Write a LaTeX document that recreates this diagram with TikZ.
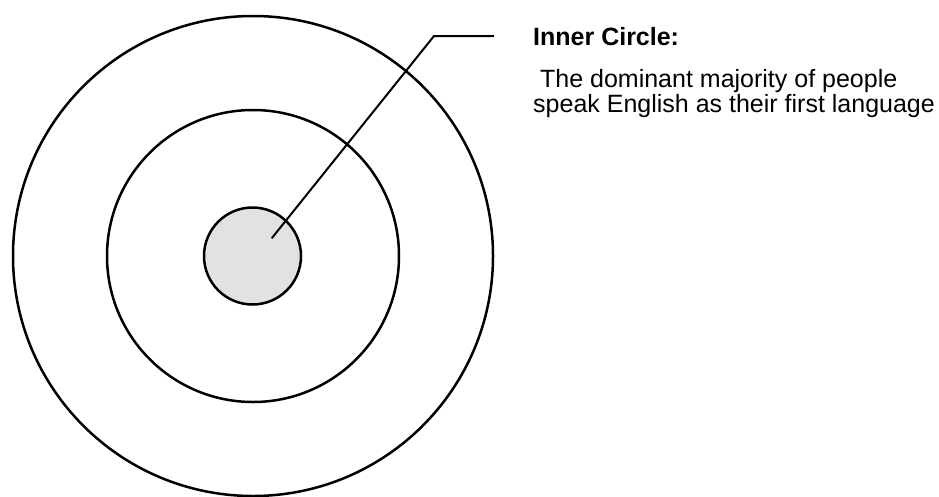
\documentclass[tikz,border=0pt]{standalone}
\usepackage{fontspec}
\setmainfont{Liberation Sans}
\definecolor{innerfill}{RGB}{226,226,228}
\begin{document}
\begin{tikzpicture}[x=1pt,y=-1pt,
  ring/.style={circle, draw=black, line width=2.5pt, inner sep=0pt},
  leader/.style={draw=black, line width=2pt},
  label/.style={anchor=base west, inner sep=0pt, font=\fontsize{25}{25}\selectfont}]
\useasboundingbox (0,0) rectangle (939,496);
\node[ring, minimum size=480pt] (outer) at (253,256) {};
\node[ring, minimum size=292pt] (middle) at (253,256) {};
\node[ring, fill=innerfill, minimum size=97pt] (inner) at (252.5,256) {};
\coordinate (tip) at (271.7,238.3);
\coordinate (bend) at (434,36);
\coordinate (end) at (494,36);
\draw[leader] (tip) -- (bend) -- (end);
\node[label, font=\fontsize{25}{25}\selectfont\bfseries] (title) at (533,45) {Inner Circle:};
\node[label, align=left] (desc) at (533,112) {~The dominant majority of people\\[0pt]speak English as their first language};
\end{tikzpicture}
\end{document}
